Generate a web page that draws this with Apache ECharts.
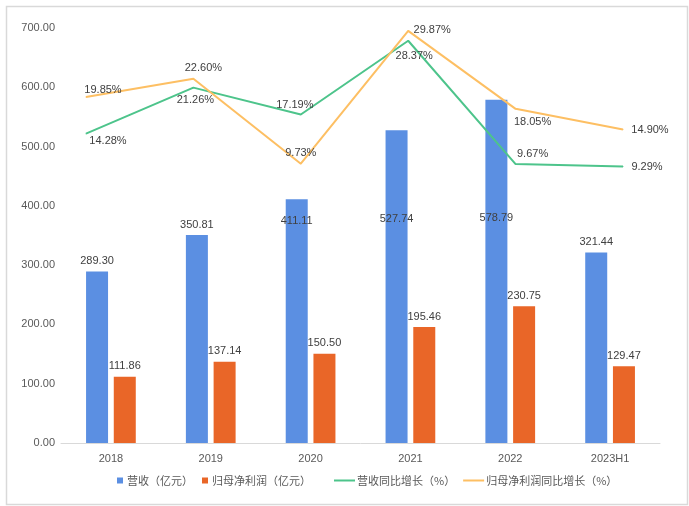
<!DOCTYPE html>
<html>
<head>
<meta charset="utf-8">
<script src="https://cdn.jsdelivr.net/npm/echarts@6/dist/echarts.min.js"></script>
<style>
html,body{margin:0;padding:0;background:#fff;}
#main{width:689px;height:506px;}
</style>
</head>
<body>
<div id="main"></div>
<script>
// ---- data ----
var categories = ['2018', '2019', '2020', '2021', '2022', '2023H1'];
var revenue = [289.30, 350.81, 411.11, 527.74, 578.79, 321.44];
var netProfit = [111.86, 137.14, 150.50, 195.46, 230.75, 129.47];
var revenueGrowth = [14.28, 21.26, 17.19, 28.37, 9.67, 9.29];
var profitGrowth = [19.85, 22.60, 9.73, 29.87, 18.05, 14.90];
var yTicks = [0, 100, 200, 300, 400, 500, 600, 700];

// ---- styling ----
var FONT = '"Liberation Sans", Arial, "Noto Sans CJK SC", sans-serif';
var LABEL_COLOR = '#404040';
// revenue labels drawn inside bar at a distance from the bar top (px), others on top
var revInsideLabel = {2: 22, 3: 89, 4: 118};
var revGrowthOffsets = [[22, 7], [2, 12], [-6, -10], [6, 15], [17, -10], [24, 0]];
var profGrowthOffsets = [[17, -7], [10, -11], [0, -11], [24, -1], [17, 13], [27, 0]];

var chart = echarts.init(document.getElementById('main'), null, {renderer: 'canvas'});

function revData() {
  return revenue.map(function (v, i) {
    if (revInsideLabel[i] !== undefined) {
      return {value: v, label: {position: ['50%', revInsideLabel[i]], align: 'center', verticalAlign: 'middle'}};
    }
    return v;
  });
}
function lineData(vals, offs) {
  return vals.map(function (v, i) {
    return {value: v, label: {position: 'inside', offset: offs[i]}};
  });
}

var option = {
  backgroundColor: '#ffffff',
  animation: false,
  graphic: [{
    type: 'rect', left: 4, top: 4, z: -1,
    shape: {width: 681, height: 498},
    style: {fill: 'none', stroke: '#d9d9d9', lineWidth: 1.5}
  }],
  grid: [
    {left: 61, right: 29, top: 28, bottom: 63},
    {left: 86, right: 66, top: 28, bottom: 63}
  ],
  legend: [
    {
      data: ['营收（亿元）', '归母净利润（亿元）'],
      left: 112, top: 470, icon: 'rect', itemWidth: 6, itemHeight: 6, itemGap: 9,
      textStyle: {fontSize: 11, color: '#595959', fontFamily: '"Noto Sans CJK SC", sans-serif', padding: [0, 0, 0, -1]}
    },
    {
      data: ['营收同比增长（%）', '归母净利润同比增长（%）'],
      left: 329, top: 470, icon: 'rect', itemWidth: 21, itemHeight: 2, itemGap: 8,
      textStyle: {fontSize: 11, color: '#595959', fontFamily: '"Noto Sans CJK SC", sans-serif', padding: [0, 0, 0, -3]}
    }
  ],
  xAxis: [
    {
      type: 'category', data: categories, gridIndex: 0,
      axisLine: {lineStyle: {color: '#d9d9d9', width: 1}},
      axisTick: {show: false},
      axisLabel: {color: '#595959', fontSize: 11, fontFamily: FONT, margin: 10}
    },
    {
      type: 'category', data: categories, gridIndex: 1, boundaryGap: false, show: false
    }
  ],
  yAxis: [
    {
      type: 'value', gridIndex: 0, min: yTicks[0], max: yTicks[yTicks.length - 1], interval: 100,
      axisLine: {show: false}, axisTick: {show: false}, splitLine: {show: false},
      axisLabel: {color: '#595959', fontSize: 11, fontFamily: FONT, margin: 6,
        formatter: function (v) { return v.toFixed(2); }}
    },
    {
      type: 'value', gridIndex: 1, min: -32.6, max: 30.3, show: false, splitLine: {show: false}
    }
  ],
  series: [
    {
      name: '营收（亿元）', type: 'bar', xAxisIndex: 0, yAxisIndex: 0,
      data: revData(), barWidth: 22, barGap: '26%',
      itemStyle: {color: '#5b8fe2'},
      label: {show: true, position: 'top', distance: 5, color: LABEL_COLOR, fontSize: 11, fontFamily: FONT,
        formatter: function (p) { return p.value.toFixed(2); }}
    },
    {
      name: '归母净利润（亿元）', type: 'bar', xAxisIndex: 0, yAxisIndex: 0,
      data: netProfit, barWidth: 22,
      itemStyle: {color: '#e96628'},
      label: {show: true, position: 'top', distance: 5, color: LABEL_COLOR, fontSize: 11, fontFamily: FONT,
        formatter: function (p) { return p.value.toFixed(2); }}
    },
    {
      name: '营收同比增长（%）', type: 'line', xAxisIndex: 1, yAxisIndex: 1,
      data: lineData(revenueGrowth, revGrowthOffsets),
      symbol: 'circle', symbolSize: 1, showSymbol: true,
      lineStyle: {color: '#4dc48b', width: 2}, itemStyle: {color: '#4dc48b'},
      label: {show: true, color: LABEL_COLOR, fontSize: 11, fontFamily: FONT,
        formatter: function (p) { return p.value.toFixed(2) + '%'; }},
      z: 3
    },
    {
      name: '归母净利润同比增长（%）', type: 'line', xAxisIndex: 1, yAxisIndex: 1,
      data: lineData(profitGrowth, profGrowthOffsets),
      symbol: 'circle', symbolSize: 1, showSymbol: true,
      lineStyle: {color: '#fdbf63', width: 2}, itemStyle: {color: '#fdbf63'},
      label: {show: true, color: LABEL_COLOR, fontSize: 11, fontFamily: FONT,
        formatter: function (p) { return p.value.toFixed(2) + '%'; }},
      z: 3
    }
  ]
};
chart.setOption(option);
</script>
</body>
</html>
